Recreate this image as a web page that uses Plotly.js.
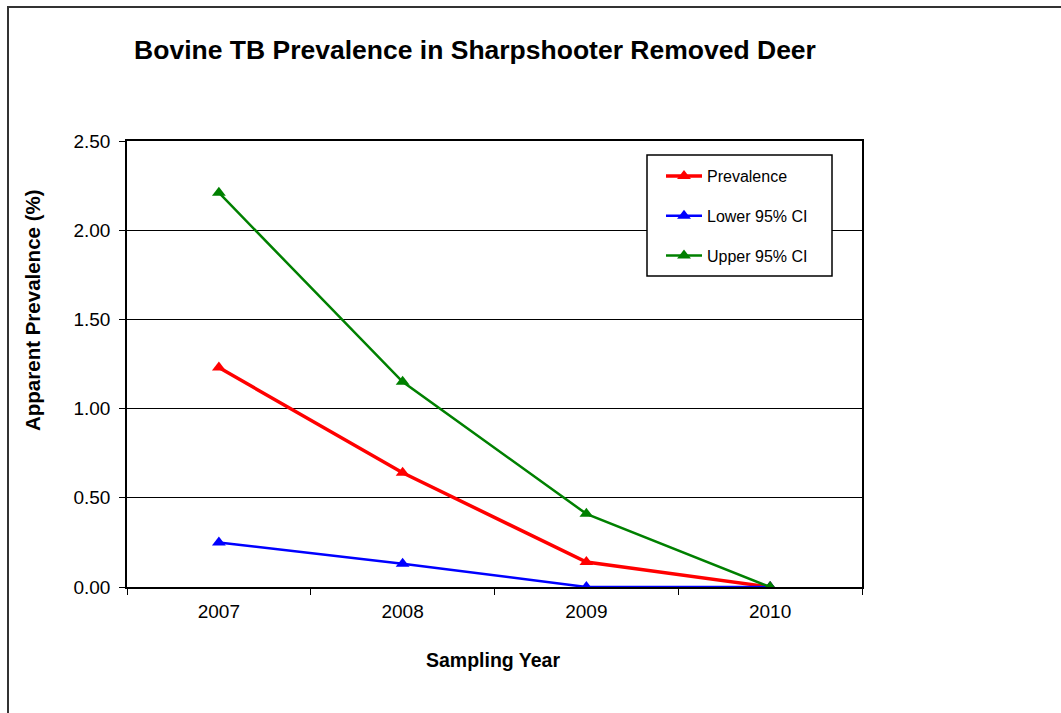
<!DOCTYPE html>
<html>
<head>
<meta charset="utf-8">
<script src="https://cdn.plot.ly/plotly-3.0.1.min.js"></script>
<style>html,body{margin:0;padding:0;background:#fff;}#chart{width:1061px;height:713px;}</style>
</head>
<body>
<div id="chart"></div>
<script>
const years = ["2007", "2008", "2009", "2010"];
const prevalence = [1.23, 0.64, 0.14, 0.00];
const lowerCI = [0.25, 0.13, 0.00, 0.00];
const upperCI = [2.21, 1.15, 0.41, 0.00];
const seriesNames = ["Prevalence", "Lower 95% CI", "Upper 95% CI"];
const yTicks = [0, 0.5, 1.0, 1.5, 2.0, 2.5];

const F = 'Arial, "Liberation Sans", sans-serif';
function tr(y, name, color, w, g) {
  return {x: years, y: y, name: name, type: 'scatter', mode: 'lines+markers',
    legendgroup: g,
    line: {color: color, width: w},
    marker: {symbol: 'triangle-up', size: 12, color: color}};
}
const data = [
  tr(prevalence, seriesNames[0], '#FF0000', 3.5, 'a'),
  tr(lowerCI, seriesNames[1], '#0000FF', 2.5, 'b'),
  tr(upperCI, seriesNames[2], '#008000', 2.5, 'c')
];
// pixel -> paper helpers for layout placement
const px = v => (v - 127) / 735;
const py = v => (587 - v) / 446;
const layout = {
  width: 1061, height: 713,
  margin: {l: 127, r: 199, t: 141, b: 126},
  paper_bgcolor: '#fff', plot_bgcolor: '#fff',
  font: {family: F, color: '#000', size: 16},
  showlegend: true,
  legend: {x: px(661), y: py(159), xanchor: 'left', yanchor: 'top',
    borderwidth: 0, bgcolor: 'rgba(0,0,0,0)',
    font: {family: F, size: 16, color: '#000'},
    tracegroupgap: 16, itemwidth: 36, traceorder: 'grouped'},
  xaxis: {type: 'category', categoryorder: 'array', categoryarray: years,
    range: [-0.5, 3.5], tickson: 'boundaries', ticks: 'outside', ticklen: 6,
    tickcolor: '#000', showline: true, linecolor: '#000', linewidth: 1.5, mirror: true,
    showgrid: false, zeroline: false, ticklabelstandoff: 6,
    tickfont: {family: F, size: 19, color: '#000'}},
  yaxis: {range: [0, 2.5], tickvals: yTicks, tickformat: '.2f', ticks: 'outside', ticklen: 6,
    tickcolor: '#000', showline: true, linecolor: '#000', linewidth: 1.5, mirror: true,
    showgrid: true, gridcolor: '#000', gridwidth: 1.2, zeroline: false,
    ticklabelstandoff: 5,
    tickfont: {family: F, size: 19, color: '#000'}},
  title: {text: '<b>Bovine TB Prevalence in Sharpshooter Removed Deer</b>',
    font: {family: F, size: 26.5, color: '#000'},
    xref: 'paper', x: px(475), xanchor: 'center', yref: 'container', y: 1 - 50 / 713, yanchor: 'middle'},
  annotations: [
    {text: '<b>Apparent Prevalence (%)</b>', xref: 'paper', yref: 'paper',
      x: px(32), y: py(310), textangle: -90, showarrow: false,
      xanchor: 'center', yanchor: 'middle', font: {family: F, size: 20.5, color: '#000'}},
    {text: '<b>Sampling Year</b>', xref: 'paper', yref: 'paper',
      x: px(493), y: py(660), showarrow: false,
      xanchor: 'center', yanchor: 'middle', font: {family: F, size: 19.5, color: '#000'}}
  ],
  shapes: [
    {type: 'path', xref: 'paper', yref: 'paper',
      path: 'M ' + px(8) + ' -1 L ' + px(8) + ' ' + py(7) + ' L 2 ' + py(7),
      line: {color: '#333', width: 2}},
    {type: 'rect', xref: 'paper', yref: 'paper', layer: 'above',
      x0: px(647), x1: px(832), y0: py(276), y1: py(155),
      fillcolor: '#fff', line: {color: '#000', width: 1.5}}
  ]
};
Plotly.newPlot('chart', data, layout, {displayModeBar: false});
</script>
</body>
</html>
